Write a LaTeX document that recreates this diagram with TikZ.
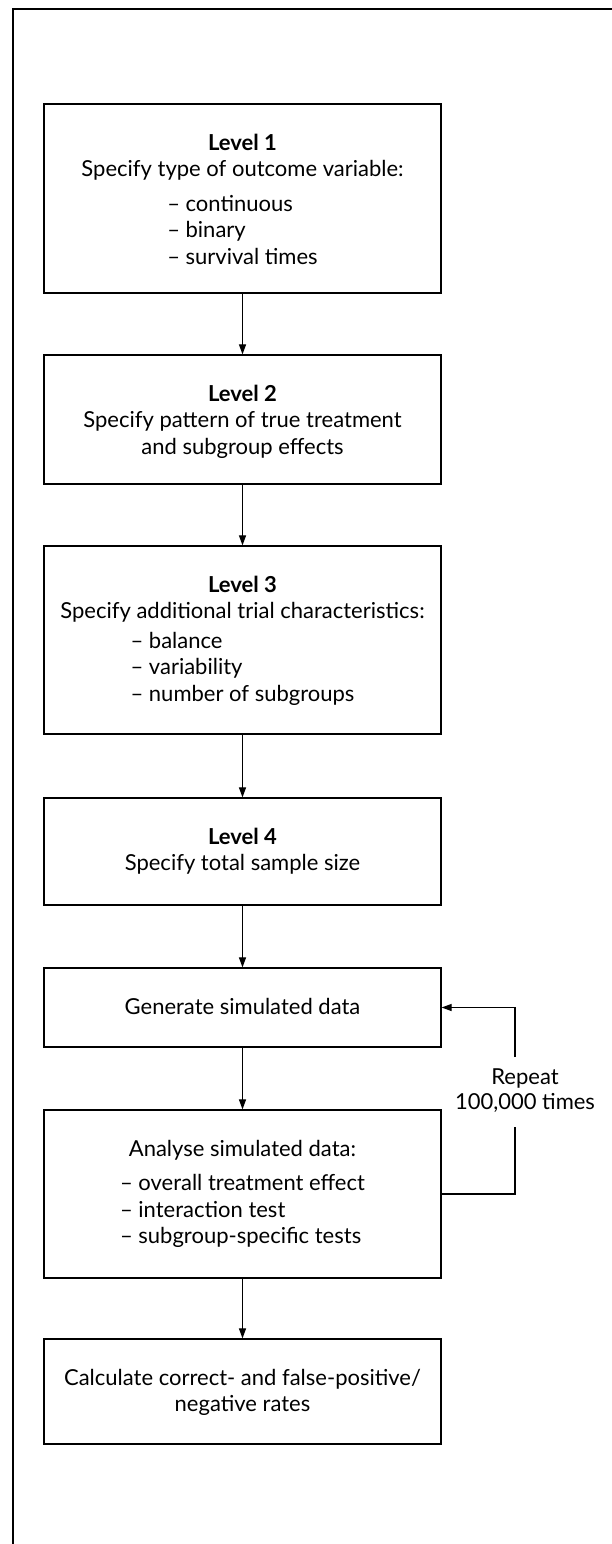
\documentclass[tikz,border=0pt]{standalone}
\usepackage{fontspec}
\setmainfont{Lato}
\usetikzlibrary{arrows.meta}
\newcommand\dashlist[1]{\begin{tabular}[t]{@{}l@{}}#1\end{tabular}}
\newcommand\boxtext[2]{\parbox[c][#1][t]{397pt}{\centering\rule{0pt}{46pt}#2}}
\begin{document}
\begin{tikzpicture}[x=1pt,y=-1pt,
  box/.style={draw,line width=1.2pt,inner sep=0pt,
    font=\fontsize{22}{26.5}\selectfont},
  arr/.style={-{Triangle[length=10pt,width=7pt]},line width=1.1pt},
  ln/.style={line width=1.1pt}]
\useasboundingbox (0,0) rectangle (612,1544);
\draw[line width=1.3pt] (13,1560) -- (13,9) -- (630,9);

\node[box] (b1) at (242.5,198.5)
  {\boxtext{189pt}{\textbf{Level 1}\\Specify type of outcome variable:\\[8pt]
   \dashlist{– continuous\\– binary\\– survival times}}};
\node[box] (b2) at (242.5,419.5)
  {\boxtext{129pt}{\textbf{Level 2}\\Specify pattern of true treatment\\and subgroup effects}};
\node[box] (b3) at (242.5,640)
  {\boxtext{188pt}{\textbf{Level 3}\\Specify additional trial characteristics:\\[3pt]
   \dashlist{– balance\\– variability\\– number of subgroups}}};
\node[box] (b4) at (242.5,851.5)
  {\boxtext{107pt}{\textbf{Level 4}\\Specify total sample size}};
\node[box] (gen) at (242.5,1007.5)
  {\boxtext{79pt}{Generate simulated data}};
\node[box] (ana) at (242.5,1194)
  {\boxtext{168pt}{Analyse simulated data:\\[8pt]
   \dashlist{– overall treatment effect\\– interaction test\\– subgroup-specific tests}}};
\node[box] (calc) at (242.5,1391.5)
  {\boxtext{105pt}{Calculate correct- and false-positive/\\negative rates}};

\node[align=center,inner sep=0pt,font=\fontsize{22}{25}\selectfont] (rep) at (525,1091)
  {Repeat\\100,000 times};
\coordinate (r1) at (515,1127);
\coordinate (r2) at (515,1057);

\draw[arr] (b1) -- (b2);
\draw[arr] (b2) -- (b3);
\draw[arr] (b3) -- (b4);
\draw[arr] (b4) -- (gen);
\draw[arr] (gen) -- (ana);
\draw[arr] (ana) -- (calc);
\draw[ln] (ana.east) -| (r1);
\draw[arr] (r2) |- (gen.east);
\end{tikzpicture}
\end{document}
